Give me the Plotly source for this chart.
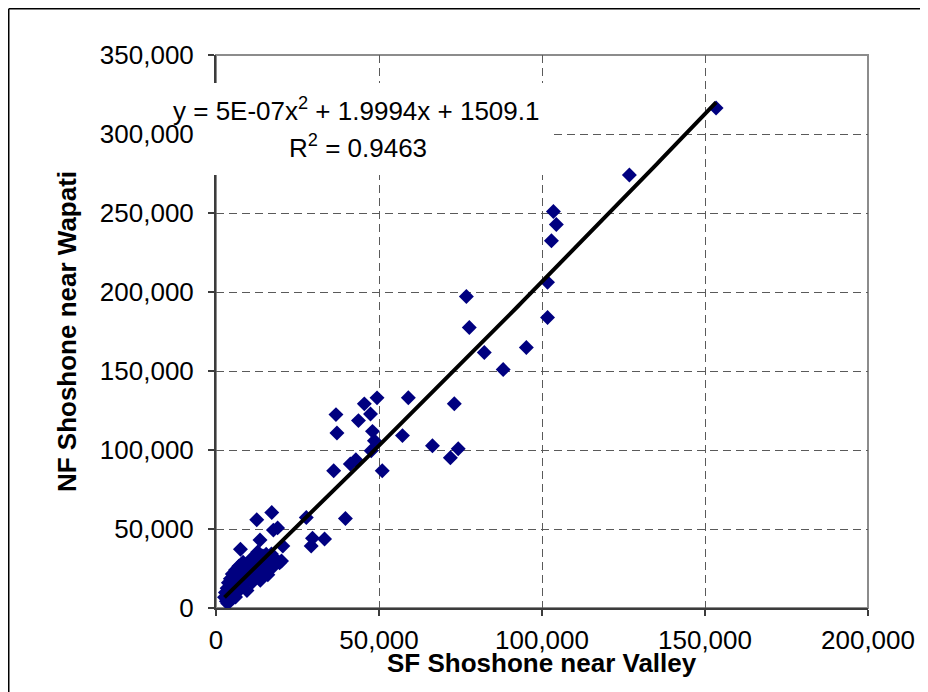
import numpy as np
import plotly.graph_objects as go

# annual flows
sf_valley = [
    153400, 126800, 103500, 104400, 102900, 101700, 101700, 76800, 77700, 82300,
    95200, 88100, 59000, 73100, 57200, 66400, 74300, 71900, 49400, 45500,
    36800, 47400, 43700, 37100, 48000, 48600, 47600, 42900, 41200, 36100,
    51000, 27700, 39700, 29600, 33300, 29200,
    18900, 17100, 12500, 17600, 13500, 7500, 20500, 12800, 20100, 17000,
    2600, 2900, 3200, 3400, 3600, 3800, 4100, 4400, 4700, 5000,
    5300, 5600, 6000, 6300, 6700, 7000, 7500, 7900, 8300, 8700,
    9100, 9500, 9900, 10300, 10800, 11200, 11600, 12100, 12800, 13600,
    13900, 14400, 14900, 15400, 15900, 16400, 17300, 18200, 19500, 6000,
]
nf_wapati = [
    316400, 274000, 250900, 242700, 232500, 206100, 183900, 197200, 177500, 161700,
    164900, 150900, 133100, 129300, 109100, 102700, 100800, 95100, 133000, 129200,
    122400, 122800, 118600, 110800, 111800, 105900, 99500, 93800, 91100, 86900,
    86900, 57300, 56600, 44200, 43700, 39300,
    50700, 60400, 55800, 49300, 43000, 37200, 39300, 35500, 29800, 34200,
    6800, 9800, 4200, 12500, 2900, 16000, 8000, 18500, 11500, 21500,
    6500, 14500, 24000, 9500, 17500, 26500, 12500, 20500, 29000, 15500,
    23500, 11000, 19000, 27500, 31000, 16500, 24500, 20500, 29500, 17500,
    23500, 33000, 26500, 34000, 21000, 28000, 25600, 31000, 28700, 7000,
]

# Excel polynomial trendline (order 2)
trend_coef = [5e-07, 1.9994, 1509.1]
r_squared = 0.9463

x_ticks = [0, 50000, 100000, 150000, 200000]
y_ticks = [0, 50000, 100000, 150000, 200000, 250000, 300000, 350000]

FONT = "Arial, Liberation Sans, sans-serif"

# page body adds an 8px offset
FIG_W, FIG_H = 920, 684
# plot area in figure pixels
L, R, T, B = 208, 860, 47, 600
W, H = R - L, B - T


def px(x):
    return (x - L) / W


def py(y):
    return (B - y) / H


tx = np.linspace(min(sf_valley), max(sf_valley), 100)
ty = np.polyval(trend_coef, tx)

fig = go.Figure()
fig.add_trace(go.Scatter(
    x=sf_valley, y=nf_wapati, mode="markers",
    marker=dict(symbol="diamond", size=11.5, color="#000080", line=dict(width=0)),
    showlegend=False, hoverinfo="skip",
))
fig.add_trace(go.Scatter(
    x=tx, y=ty, mode="lines", line=dict(color="black", width=4),
    showlegend=False, hoverinfo="skip",
))

axis_common = dict(
    showgrid=True, gridcolor="#5a5a5a", gridwidth=1, griddash="8px,5px",
    zeroline=False, showline=True, linecolor="#3c3c3c", linewidth=2,
    ticks="outside", ticklen=6, tickcolor="#3c3c3c", tickwidth=1.5,
    tickformat=",", tickfont=dict(family=FONT, size=26, color="black"),
)
fig.update_xaxes(range=[0, 200000], tickvals=x_ticks, ticklabelstandoff=2,
                 **axis_common)
fig.update_yaxes(range=[0, 350000], tickvals=y_ticks, ticklabelstandoff=9,
                 title=dict(text="<b>NF Shoshone near Wapati</b>",
                            font=dict(family=FONT, size=26, color="black"), standoff=16),
                 **axis_common)

border = dict(color="black", width=1.5)
shapes = [
    # plot area frame (top / right in grey)
    dict(type="rect", xref="paper", yref="paper", x0=0, x1=1, y0=0, y1=1,
         line=dict(color="#8c8c8c", width=2), layer="below"),
    # white box behind the trendline label
    dict(type="rect", xref="paper", yref="paper", x0=px(191), x1=px(545), y0=py(167), y1=py(75),
         fillcolor="white", line=dict(width=0), layer="above"),
    # outer chart border: only its left and top edges are in view
    dict(type="line", xref="paper", yref="paper", x0=px(0.75), x1=px(0.75), y0=py(0.75), y1=py(FIG_H + 20),
         line=border, layer="above"),
    dict(type="line", xref="paper", yref="paper", x0=px(0.75), x1=px(FIG_W + 20), y0=py(0.75), y1=py(0.75),
         line=border, layer="above"),
]

eq_font = dict(family=FONT, size=26, color="black")
annotations = [
    dict(text="y = 5E-07x<sup>2</sup> + 1.9994x + 1509.1", xref="paper", yref="paper",
         x=px(348), y=py(101), xanchor="center", yanchor="middle", showarrow=False, font=eq_font),
    dict(text="R<sup>2</sup> = %.4f" % r_squared, xref="paper", yref="paper",
         x=px(350), y=py(138), xanchor="center", yanchor="middle", showarrow=False, font=eq_font),
    dict(text="<b>SF Shoshone near Valley</b>", xref="paper", yref="paper",
         x=0.5, y=py(655), xanchor="center", yanchor="middle", showarrow=False,
         font=dict(family=FONT, size=26, color="black")),
]

fig.update_layout(
    width=FIG_W, height=FIG_H,
    margin=dict(l=L, r=FIG_W - R, t=T, b=FIG_H - B),
    paper_bgcolor="white", plot_bgcolor="white",
    font=dict(family=FONT, color="black"),
    shapes=shapes,
    annotations=annotations,
)

fig.write_html("out.html")
